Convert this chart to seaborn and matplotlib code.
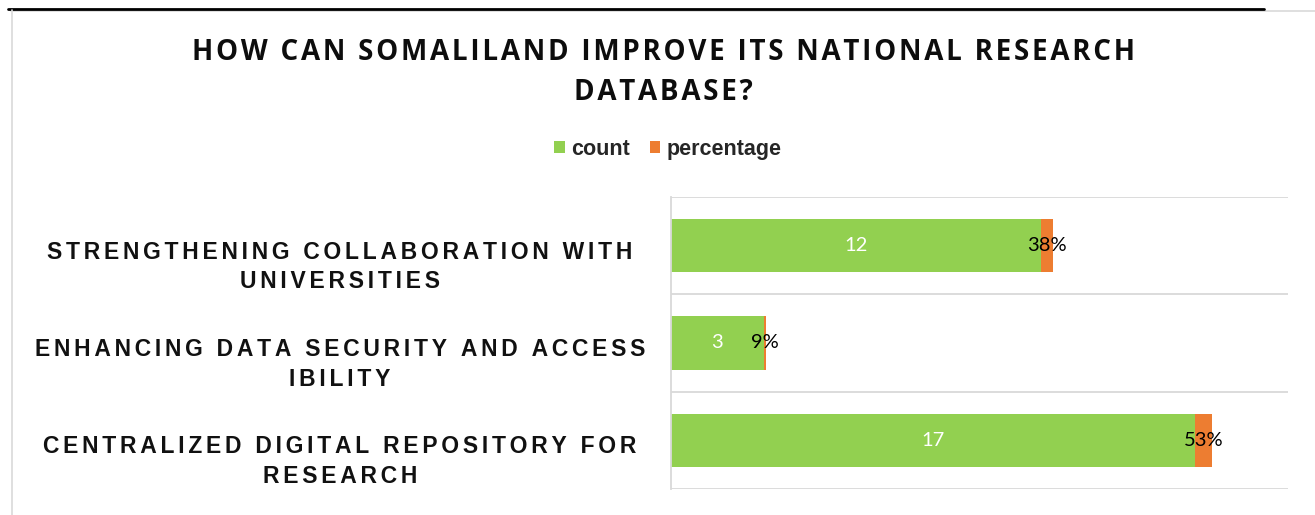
import matplotlib
matplotlib.use("Agg")
import matplotlib.pyplot as plt
import matplotlib.transforms as mtransforms
from matplotlib.lines import Line2D
from matplotlib.patches import Patch
import seaborn as sns
import pandas as pd

categories = ["STRENGTHENING COLLABORATION WITH\nUNIVERSITIES",
              "ENHANCING DATA SECURITY AND ACCESS\nIBILITY",
              "CENTRALIZED DIGITAL REPOSITORY FOR\nRESEARCH"]
count = [12, 3, 17]
percentage = [0.38, 0.09, 0.53]
series_names = ["count", "percentage"]
title_text = "HOW CAN SOMALILAND IMPROVE ITS NATIONAL RESEARCH\nDATABASE?"

GREEN = "#92D050"
ORANGE = "#ED7D31"
GRID = "#D9D9D9"

sns.set_theme(style="white")
plt.rcParams['font.family'] = ['Liberation Sans', 'DejaVu Sans']

def spaced(s, sep="\u2006"):
    out = []
    for line in s.split("\n"):
        out.append(sep.join(line))
    return "\n".join(out)

df = pd.DataFrame({"category": categories, "count": count, "percentage": percentage})
df["total"] = df["count"] + df["percentage"]

W, H = 1315, 515
fig = plt.figure(figsize=(W / 100, H / 100), dpi=100)
ax = fig.add_axes([671 / W, 1 - 489 / H, (1288 - 671) / W, (489 - 197) / H])

sns.barplot(data=df, y="category", x="total", color=ORANGE, orient="h", width=0.55,
            ax=ax, saturation=1, linewidth=0)
sns.barplot(data=df, y="category", x="count", color=GREEN, orient="h", width=0.55,
            ax=ax, saturation=1, linewidth=0)

ax.set_xlim(0, 20)
ax.set_ylim(2.5, -0.5)
ax.set_xlabel("")
ax.set_ylabel("")
ax.set_xticks([])

# category separators
for b in [-0.5, 0.5, 1.5, 2.5]:
    ax.axhline(b, color=GRID, lw=1.3, zorder=0)
for s in ["top", "right", "bottom"]:
    ax.spines[s].set_visible(False)
ax.spines["left"].set_color(GRID)
ax.spines["left"].set_linewidth(1.3)

# value labels
for i, (c, p) in enumerate(zip(count, percentage)):
    ax.text(c / 2, i, str(c), ha="center", va="center", color="white",
            fontsize=14.5, family=["Lato", "DejaVu Sans"])
    ax.text(c + p / 2, i, f"{round(p * 100)}%", ha="center", va="center", color="black",
            fontsize=14.5, family=["Lato", "DejaVu Sans"])

# tick labels
ax.set_yticks(range(len(categories)))
ax.set_yticklabels([spaced(c) for c in categories], fontsize=16.5, fontweight="bold",
                   color="#111111", linespacing=1.37)
ax.tick_params(axis="y", length=0, pad=(671 - 340) * 0.72)
offset = mtransforms.ScaledTranslation(0, -15.5 / 100, fig.dpi_scale_trans)
for lab in ax.get_yticklabels():
    lab.set_ha("center")
    lab.set_multialignment("center")
    lab.set_transform(lab.get_transform() + offset)

# title
fig.text(663 / W, 1 - 72.5 / H, spaced(title_text, "\u200A"), ha="center", va="center",
         fontsize=20, fontweight="bold", family=["Open Sans", "DejaVu Sans"],
         color="#0D0D0D", linespacing=1.49)

# legend
handles = [Patch(facecolor=GREEN, edgecolor="none"), Patch(facecolor=ORANGE, edgecolor="none")]
fig.legend(handles, series_names, loc="center", bbox_to_anchor=(668 / W, 1 - 149.5 / H),
           ncol=2, frameon=False, prop={"weight": "bold", "size": 15.5},
           handlelength=0.5, handleheight=0.5, handletextpad=0.3, columnspacing=0.9)

# frame lines
fig.add_artist(Line2D([8 / W, 1264 / W], [1 - 8.5 / H] * 2, color="black", lw=2,
                      transform=fig.transFigure))
fig.add_artist(Line2D([11 / W, 1 + 0.0], [1 - 10.5 / H] * 2, color=GRID, lw=1.2,
                      transform=fig.transFigure, zorder=0))
fig.add_artist(Line2D([11.5 / W] * 2, [0, 1 - 10 / H], color=GRID, lw=1.2,
                      transform=fig.transFigure))

fig.savefig("out.png", dpi=100, facecolor="white")
